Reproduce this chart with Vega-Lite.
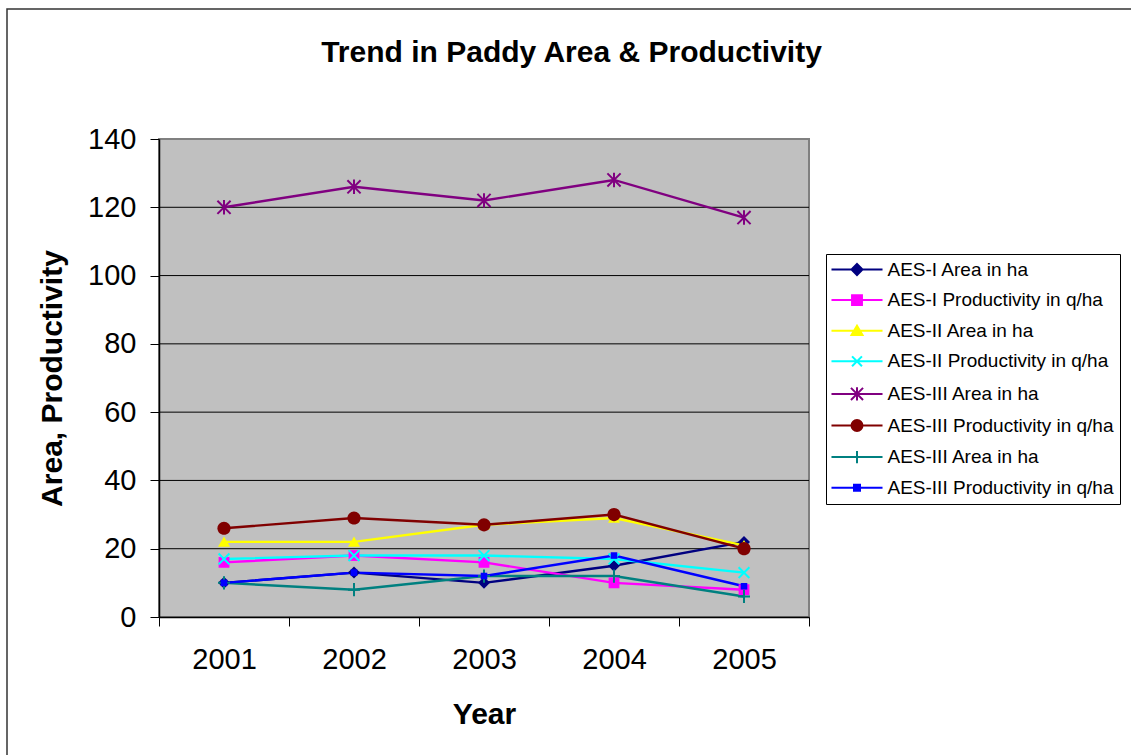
{
  "$schema": "https://vega.github.io/schema/vega-lite/v6.json",
  "width": 1134,
  "height": 756,
  "autosize": {"type": "none"},
  "padding": {"left": 7, "top": 9, "right": -10, "bottom": -10},
  "background": "white",
  "config": {
    "view": {"stroke": "#333333", "strokeWidth": 1.5, "fill": "white"},
    "font": "Liberation Sans"
  },
  "title": {
    "text": "Trend in Paddy Area & Productivity",
    "font": "Liberation Sans",
    "fontSize": 30,
    "fontWeight": "bold",
    "color": "black",
    "anchor": "middle",
    "baseline": "alphabetic",
    "offset": 0,
    "dy": 83,
    "dx": -2.5
  },
  "data": {
    "values": [
      {"series": "1|AES-I Area in ha", "year": 2001, "value": 10},
      {"series": "1|AES-I Area in ha", "year": 2002, "value": 13},
      {"series": "1|AES-I Area in ha", "year": 2003, "value": 10},
      {"series": "1|AES-I Area in ha", "year": 2004, "value": 15},
      {"series": "1|AES-I Area in ha", "year": 2005, "value": 22},
      {"series": "2|AES-I Productivity in q/ha", "year": 2001, "value": 16},
      {"series": "2|AES-I Productivity in q/ha", "year": 2002, "value": 18},
      {"series": "2|AES-I Productivity in q/ha", "year": 2003, "value": 16},
      {"series": "2|AES-I Productivity in q/ha", "year": 2004, "value": 10},
      {"series": "2|AES-I Productivity in q/ha", "year": 2005, "value": 8},
      {"series": "3|AES-II Area in ha", "year": 2001, "value": 22},
      {"series": "3|AES-II Area in ha", "year": 2002, "value": 22},
      {"series": "3|AES-II Area in ha", "year": 2003, "value": 27},
      {"series": "3|AES-II Area in ha", "year": 2004, "value": 29},
      {"series": "3|AES-II Area in ha", "year": 2005, "value": 21},
      {"series": "4|AES-II Productivity in q/ha", "year": 2001, "value": 17},
      {"series": "4|AES-II Productivity in q/ha", "year": 2002, "value": 18},
      {"series": "4|AES-II Productivity in q/ha", "year": 2003, "value": 18},
      {"series": "4|AES-II Productivity in q/ha", "year": 2004, "value": 17},
      {"series": "4|AES-II Productivity in q/ha", "year": 2005, "value": 13},
      {"series": "5|AES-III Area in ha", "year": 2001, "value": 120},
      {"series": "5|AES-III Area in ha", "year": 2002, "value": 126},
      {"series": "5|AES-III Area in ha", "year": 2003, "value": 122},
      {"series": "5|AES-III Area in ha", "year": 2004, "value": 128},
      {"series": "5|AES-III Area in ha", "year": 2005, "value": 117},
      {"series": "6|AES-III Productivity in q/ha", "year": 2001, "value": 26},
      {"series": "6|AES-III Productivity in q/ha", "year": 2002, "value": 29},
      {"series": "6|AES-III Productivity in q/ha", "year": 2003, "value": 27},
      {"series": "6|AES-III Productivity in q/ha", "year": 2004, "value": 30},
      {"series": "6|AES-III Productivity in q/ha", "year": 2005, "value": 20},
      {"series": "7|AES-III Area in ha", "year": 2001, "value": 10},
      {"series": "7|AES-III Area in ha", "year": 2002, "value": 8},
      {"series": "7|AES-III Area in ha", "year": 2003, "value": 12},
      {"series": "7|AES-III Area in ha", "year": 2004, "value": 12},
      {"series": "7|AES-III Area in ha", "year": 2005, "value": 6},
      {"series": "8|AES-III Productivity in q/ha", "year": 2001, "value": 10},
      {"series": "8|AES-III Productivity in q/ha", "year": 2002, "value": 13},
      {"series": "8|AES-III Productivity in q/ha", "year": 2003, "value": 12},
      {"series": "8|AES-III Productivity in q/ha", "year": 2004, "value": 18},
      {"series": "8|AES-III Productivity in q/ha", "year": 2005, "value": 9}
    ]
  },
  "layer": [
    {
      "data": {"values": [{"lo": 0, "hi": 140}]},
      "mark": {"type": "rect", "fill": "#C0C0C0", "stroke": "#808080", "strokeWidth": 2},
      "encoding": {
        "x": {"datum": 2000.5, "type": "quantitative", "scale": {"domain": [2000.5, 2005.5], "range": [152, 802], "nice": false, "zero": false}},
        "x2": {"datum": 2005.5},
        "y": {"field": "lo", "type": "quantitative", "scale": {"domain": [0, 140], "range": [608, 130], "nice": false}},
        "y2": {"field": "hi"}
      }
    },
    {
      "data": {"values": [{"tick": 20}, {"tick": 40}, {"tick": 60}, {"tick": 80}, {"tick": 100}, {"tick": 120}]},
      "mark": {"type": "rule", "color": "black", "strokeWidth": 1},
      "encoding": {
        "y": {"field": "tick", "type": "quantitative", "scale": {"domain": [0, 140], "range": [608, 130], "nice": false}},
        "x": {"datum": 2000.5, "type": "quantitative", "scale": {"domain": [2000.5, 2005.5], "range": [152, 802], "nice": false, "zero": false}},
        "x2": {"datum": 2005.5}
      }
    },
    {
      "encoding": {
        "x": {
          "field": "year", "type": "quantitative",
          "scale": {"domain": [2000.5, 2005.5], "range": [152, 802], "nice": false, "zero": false},
          "axis": {
            "title": "Year",
            "values": [2000.5, 2001, 2001.5, 2002, 2002.5, 2003, 2003.5, 2004, 2004.5, 2005, 2005.5],
            "labelExpr": "datum.value % 1 == 0 ? format(datum.value, 'd') : ''",
            "tickOpacity": {"condition": {"test": "datum.value % 1 == 0", "value": 0}, "value": 1},
            "tickSize": 9, "tickColor": "black", "tickWidth": 1,
            "domainColor": "black", "domainWidth": 1.5,
            "labelFont": "Liberation Sans", "labelFontSize": 29, "labelColor": "black",
            "labelPadding": 19, "labelOverlap": false, "labelFlush": false,
            "titleFont": "Liberation Sans", "titleFontSize": 30, "titleFontWeight": "bold", "titleColor": "black",
            "titlePadding": 25,
            "offset": -148, "grid": false, "zindex": 1
          }
        },
        "y": {
          "field": "value", "type": "quantitative",
          "scale": {"domain": [0, 140], "range": [608, 130], "nice": false},
          "axis": {
            "title": "Area, Productivity",
            "values": [0, 20, 40, 60, 80, 100, 120, 140],
            "tickSize": 9, "tickColor": "black", "tickWidth": 1,
            "domainColor": "black", "domainWidth": 1.5,
            "labelFont": "Liberation Sans", "labelFontSize": 29, "labelColor": "black",
            "labelPadding": 14,
            "titleFont": "Liberation Sans", "titleFontSize": 30, "titleFontWeight": "bold", "titleColor": "black",
            "titlePadding": 20,
            "offset": -152, "grid": false, "zindex": 1
          }
        },
        "color": {
          "field": "series", "type": "nominal",
          "scale": {
            "domain": ["1|AES-I Area in ha", "2|AES-I Productivity in q/ha", "3|AES-II Area in ha", "4|AES-II Productivity in q/ha", "5|AES-III Area in ha", "6|AES-III Productivity in q/ha", "7|AES-III Area in ha", "8|AES-III Productivity in q/ha"],
            "range": ["#000080", "#FF00FF", "#FFFF00", "#00FFFF", "#800080", "#800000", "#008080", "#0000FF"]
          },
          "legend": {
            "title": null,
            "orient": "none",
            "legendX": 819,
            "legendY": 245,
            "labelExpr": "split(datum.label, '|')[1]",
            "labelFont": "Liberation Sans",
            "labelFontSize": 19,
            "labelColor": "black",
            "labelLimit": 0,
            "symbolSize": 121,
            "symbolOffset": 15.5,
            "labelOffset": 21,
            "padding": 6,
            "rowPadding": 10.6,
            "fillColor": "white",
            "strokeColor": "black",
            "symbolStrokeWidth": 2,
            "encode": {
              "symbols": {
                "update": {
                  "shape": {"signal": "['M-4.64,0H4.64M0,-1L1,0L0,1L-1,0Z', 'M-4.64,0H4.64M-0.9,-0.9H0.9V0.9H-0.9Z', 'M-4.64,0H4.64M0,-0.9L1,0.8L-1,0.8Z', 'M-4.64,0H4.64M-0.9,-0.9L0.9,0.9M-0.9,0.9L0.9,-0.9', 'M-4.64,0H4.64M-1.1,-1.1L1.1,1.1M-1.1,1.1L1.1,-1.1M0,-1.2V1.2', 'M-4.64,0H4.64M1,0A1,1,0,1,1,-1,0A1,1,0,1,1,1,0Z', 'M-4.64,0H4.64M-1,0H1M0,-1.1V1.1', 'M-4.64,0H4.64M-0.55,-0.55H0.55V0.55H-0.55Z'][toNumber(split(datum.value, '|')[0]) - 1]"},
                  "fill": {"scale": "color", "field": "value"},
                  "stroke": {"scale": "color", "field": "value"},
                  "strokeWidth": {"value": 2},
                  "opacity": {"value": 1}
                }
              }
            }
          }
        }
      },
      "layer": [
        {"mark": {"type": "line", "strokeWidth": 2.4}},
        {
          "transform": [{"filter": {"field": "series", "equal": "1|AES-I Area in ha"}}],
          "mark": {"type": "point", "shape": "M0,-1L1,0L0,1L-1,0Z", "filled": true, "size": 144, "opacity": 1}
        },
        {
          "transform": [{"filter": {"field": "series", "equal": "2|AES-I Productivity in q/ha"}}],
          "mark": {"type": "point", "shape": "M-0.9,-0.9H0.9V0.9H-0.9Z", "filled": true, "size": 144, "opacity": 1}
        },
        {
          "transform": [{"filter": {"field": "series", "equal": "3|AES-II Area in ha"}}],
          "mark": {"type": "point", "shape": "M0,-0.9L1,0.8L-1,0.8Z", "filled": true, "size": 144, "opacity": 1}
        },
        {
          "transform": [{"filter": {"field": "series", "equal": "4|AES-II Productivity in q/ha"}}],
          "mark": {"type": "point", "shape": "M-0.9,-0.9L0.9,0.9M-0.9,0.9L0.9,-0.9", "filled": false, "strokeWidth": 2, "size": 144, "opacity": 1}
        },
        {
          "transform": [{"filter": {"field": "series", "equal": "5|AES-III Area in ha"}}],
          "mark": {"type": "point", "shape": "M-1.1,-1.1L1.1,1.1M-1.1,1.1L1.1,-1.1M0,-1.2V1.2", "filled": false, "strokeWidth": 2, "size": 144, "opacity": 1}
        },
        {
          "transform": [{"filter": {"field": "series", "equal": "6|AES-III Productivity in q/ha"}}],
          "mark": {"type": "point", "shape": "M1.1,0A1.1,1.1,0,1,1,-1.1,0A1.1,1.1,0,1,1,1.1,0Z", "filled": true, "size": 144, "opacity": 1}
        },
        {
          "transform": [{"filter": {"field": "series", "equal": "7|AES-III Area in ha"}}],
          "mark": {"type": "point", "shape": "M-1,0H1M0,-1.1V1.1", "filled": false, "strokeWidth": 2, "size": 144, "opacity": 1}
        },
        {
          "transform": [{"filter": {"field": "series", "equal": "8|AES-III Productivity in q/ha"}}],
          "mark": {"type": "point", "shape": "M-0.55,-0.55H0.55V0.55H-0.55Z", "filled": true, "size": 144, "opacity": 1}
        }
      ]
    }
  ]
}
